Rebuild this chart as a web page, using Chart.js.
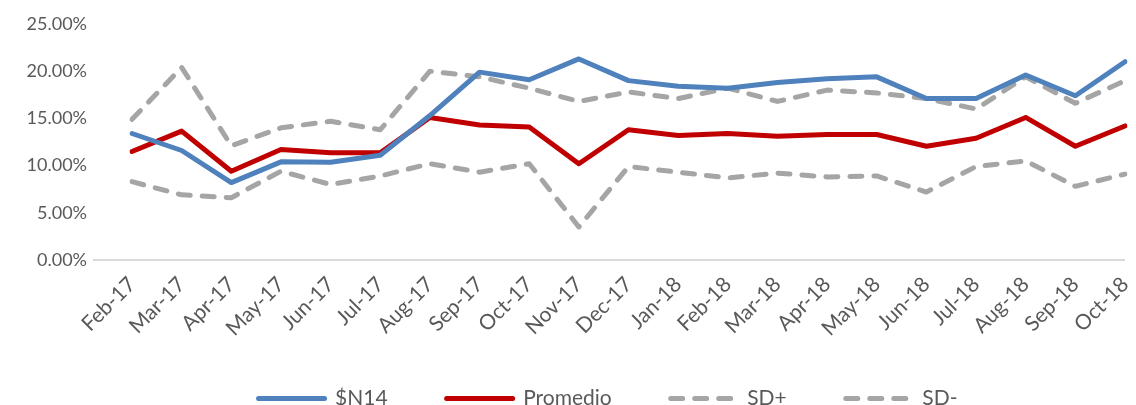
<!DOCTYPE html>
<html>
<head>
<meta charset="utf-8">
<script src="https://cdn.jsdelivr.net/npm/chart.js@4.4.1/dist/chart.umd.min.js"></script>
<style>
  html, body { margin: 0; padding: 0; background: #fff; }
  #wrap { width: 1136px; height: 405px; position: relative; }
</style>
</head>
<body>
<div id="wrap"><canvas id="chart"></canvas></div>
<script>
const months = [
  "Feb-17", "Mar-17", "Apr-17", "May-17", "Jun-17", "Jul-17", "Aug-17",
  "Sep-17", "Oct-17", "Nov-17", "Dec-17", "Jan-18", "Feb-18", "Mar-18",
  "Apr-18", "May-18", "Jun-18", "Jul-18", "Aug-18", "Sep-18", "Oct-18",
];

// valores en %
const n14 = [13.4, 11.6, 8.2, 10.4, 10.35, 11.1, 15.3, 19.9, 19.1, 21.3, 19.0,
  18.4, 18.2, 18.8, 19.2, 19.4, 17.1, 17.1, 19.6, 17.4, 21.0];
const promedio = [11.5, 13.65, 9.4, 11.7, 11.35, 11.35, 15.1, 14.3, 14.1, 10.2, 13.8,
  13.2, 13.4, 13.1, 13.3, 13.3, 12.05, 12.9, 15.1, 12.05, 14.2];
const sdPlus = [14.9, 20.4, 12.1, 14.0, 14.7, 13.8, 20.0, 19.4, 18.2, 16.8, 17.8,
  17.1, 18.2, 16.8, 18.0, 17.7, 17.1, 16.0, 19.4, 16.6, 19.0];
const sdMinus = [8.3, 6.9, 6.6, 9.4, 8.0, 8.9, 10.2, 9.3, 10.2, 3.5, 9.9,
  9.3, 8.7, 9.2, 8.8, 8.9, 7.2, 9.9, 10.5, 7.8, 9.1];

const yTicks = [0, 5, 10, 15, 20, 25];

const toFraction = (arr) => arr.map((v) => v / 100);

const FONT = "Lato, 'Open Sans', sans-serif";
const TEXT = "#595959";
const GRAY = "#a5a5a5";
const DASH = [12, 12];

const lineSet = (label, data, color, dashed) => ({
  label,
  data: toFraction(data),
  borderColor: color,
  backgroundColor: color,
  borderWidth: 5,
  borderDash: dashed ? DASH : [],
  borderCapStyle: "round",
  borderJoinStyle: "round",
  pointRadius: 0,
  tension: 0,
  fill: false,
});

new Chart(document.getElementById("chart"), {
  type: "line",
  data: {
    labels: months,
    datasets: [
      lineSet("$N14", n14, "#4f81bd", false),
      lineSet("Promedio", promedio, "#c00000", false),
      lineSet("SD+", sdPlus, GRAY, true),
      lineSet("SD-", sdMinus, GRAY, true),
    ],
  },
  options: {
    responsive: true,
    maintainAspectRatio: false,
    animation: false,
    layout: {
      // el margen derecho negativo solo desplaza la leyenda; el área del gráfico
      // queda fijada por paddingRight del eje x
      padding: { top: 24, right: -80, left: 0, bottom: -14 },
    },
    plugins: {
      tooltip: { enabled: false },
      legend: {
        position: "bottom",
        labels: {
          usePointStyle: true,
          pointStyle: "line",
          pointStyleWidth: 66,
          boxHeight: 5,
          padding: 59,
          color: TEXT,
          font: { family: FONT, size: 21 },
          generateLabels: (chart) =>
            Chart.defaults.plugins.legend.labels.generateLabels(chart).map((item) => {
              const ds = chart.data.datasets[item.datasetIndex];
              return {
                ...item,
                lineWidth: 5,
                lineDash: ds.borderDash,
                lineCap: "round",
                strokeStyle: ds.borderColor,
              };
            }),
        },
      },
    },
    scales: {
      x: {
        offset: false,
        grid: { display: false },
        border: { display: false },
        ticks: {
          color: TEXT,
          font: { family: FONT, size: 21 },
          minRotation: 45,
          maxRotation: 45,
          autoSkip: false,
          padding: 4,
        },
        afterFit: (scale) => {
          scale.height = 69;
          scale.paddingLeft = 0;
          scale.paddingRight = 11;
          // las etiquetas giradas bajan hasta la zona de la leyenda; no recortarlas
          scale._computeLabelArea = () => undefined;
        },
      },
      y: {
        min: 0,
        max: 0.25,
        afterBuildTicks: (scale) => {
          scale.ticks = yTicks.map((v) => ({ value: v / 100 }));
        },
        grid: {
          drawTicks: true,
          tickLength: 39,
          lineWidth: 2,
          color: (ctx) => (ctx.tick && ctx.tick.value === 0 ? "#d9d9d9" : "rgba(0,0,0,0)"),
        },
        border: { display: false },
        ticks: {
          color: TEXT,
          padding: 6,
          font: { family: FONT, size: 18 },
          callback: (value) => `${(value * 100).toFixed(2)}%`,
        },
        afterFit: (scale) => {
          scale.width = 132;
        },
      },
    },
  },
});
</script>
</body>
</html>
